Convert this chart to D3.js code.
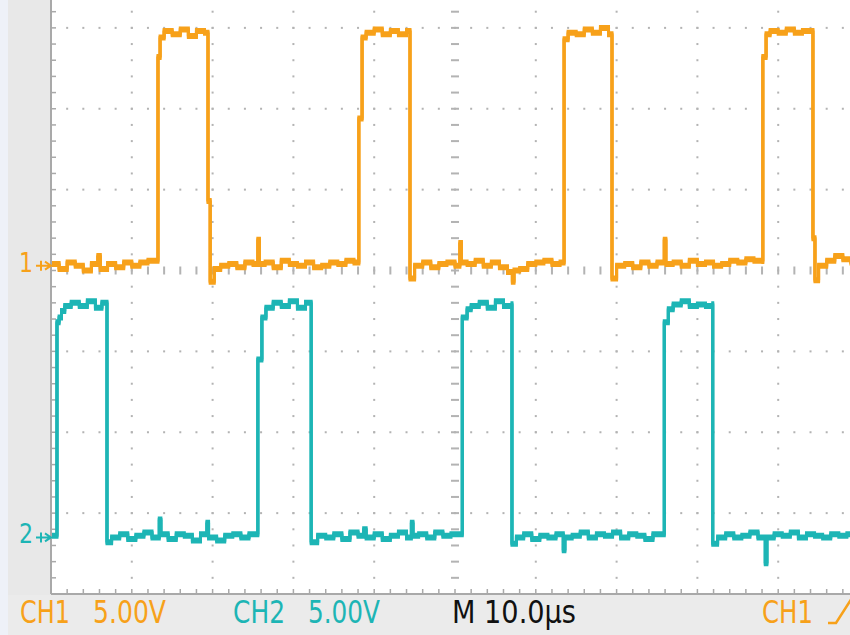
<!DOCTYPE html>
<html>
<head>
<meta charset="utf-8">
<script src="https://cdn.jsdelivr.net/npm/d3@7/dist/d3.min.js"></script>
<style>
  html, body { margin: 0; padding: 0; background: #ffffff; }
  svg { display: block; }
</style>
</head>
<body>
<svg id="chart" width="850" height="635"></svg>
<script>
// ---------------- DATA ----------------
// time axis in microseconds (10 µs / div), voltage in volts (5 V / div)
const timeDivisions = [0, 10, 20, 30, 40, 50, 60, 70, 80, 90, 100];
const voltDivisions = [-20, -15, -10, -5, 0, 5, 10, 15, 20];
const ch1Offset = 0.3;     // CH1 ground marker position (V on screen)
const ch2Offset = -16.5;   // CH2 ground marker position (V on screen)

// CH1 trace: [time µs, volts]
const ch1Trace = [
  [0,0.1],[1,-0.2],[2,0.2],[3,0],[4,-0.3],[5,0.1],[5.8,0.6],[6.1,-0.2],[7,0.1],[8,-0.1],[9,0.2],[10,0],[11,0.2],[12,0.3],[13.24,0.3],
  [13.24,12.9],[13.5,14.1],[14,14.5],[15,14.3],[16,14.6],[17,14.2],[18,14.5],[19,14.4],[19.43,14.4],
  [19.43,4.0],[19.7,4.0],[19.7,-1.0],[20.2,-0.2],[21,0],[22,0.1],[23,-0.1],[24,0.2],[25,0.1],[25.6,1.6],[25.8,0.1],[26.5,0.2],[27.5,-0.1],[28.5,0.3],[29.5,0.1],[30.5,0],[31.5,0.2],[32.5,-0.1],[33.5,0],[34.5,0.2],[35.5,0.1],[36.5,0.3],[37.5,0.2],[38.1,0.1],
  [38.1,9.1],[38.5,9.1],[38.5,14.1],[39,14.4],[40,14.6],[41,14.3],[42,14.5],[43,14.3],[44,14.5],[44.43,14.4],
  [44.43,-0.8],[45,0],[46,0.2],[47,-0.1],[48,0.1],[49,0.2],[50,0],[50.6,1.4],[50.8,0.2],[51.5,0.1],[52.5,0.3],[53.5,0],[54.5,0.2],[55.5,-0.1],[56.5,-0.4],[57.1,-1.0],[57.3,-0.3],[58,-0.2],[59,0.1],[60,0.2],[61,0.3],[62,0.1],[63,0.2],[63.5,0.2],
  [63.5,14.0],[64,14.4],[65,14.3],[66,14.6],[67,14.4],[68,14.7],[69,14.3],[69.43,14.4],
  [69.43,-0.8],[70,0],[71,0.1],[72,-0.1],[73,0.2],[74,0],[75,0.2],[75.9,1.6],[76.1,0.1],[77,0.2],[78,0],[79,0.3],[80,0.1],[81,0.2],[82,0],[83,0.1],[84,0.3],[85,0.2],[86,0.4],[87,0.3],[88.1,0.2],
  [88.1,12.9],[88.5,12.9],[88.5,14.3],[89,14.5],[90,14.4],[91,14.6],[92,14.4],[93,14.5],[94.3,14.4],
  [94.3,1.7],[94.55,1.7],[94.55,-0.9],[95,0],[96,0.3],[97,0.6],[98,0.4],[99,0.2],[100,0.3]
];

// CH2 trace: [time µs, volts]
const ch2Trace = [
  [0,0.1],[0.74,0.1],[0.74,13.3],[1.0,13.6],[1.3,14.0],[1.7,14.3],[2.5,14.5],[3.5,14.3],[4.5,14.6],[5.5,14.2],[6.3,14.5],[6.93,14.4],
  [6.93,-0.3],[7.5,0],[8.5,0.2],[9.5,-0.1],[10.5,0.1],[11.5,0.3],[12.5,0],[13.4,1.1],[13.6,0.2],[14.5,-0.1],[15.5,0.2],[16.5,0.1],[17.5,-0.2],[18.5,0.2],[19.3,0.9],[19.5,0],[20.5,-0.2],[21.5,0.1],[22.5,0.2],[23.5,0],[24.5,0.2],[25.6,0.3],
  [25.6,11.0],[26.1,13.6],[26.6,14.2],[27.5,14.5],[28.5,14.3],[29.5,14.6],[30.5,14.2],[31.5,14.5],[32.2,14.4],
  [32.2,-0.3],[33,0.1],[34,0],[35,0.2],[36,-0.1],[37,0.3],[38,0.1],[38.7,0.5],[39,0],[40,0.2],[41,-0.1],[42,0.1],[43,0.3],[44,0],[44.6,0.9],[44.8,0.1],[45.5,0.2],[46.5,0],[47.5,0.3],[48.5,0.1],[49.5,0.2],[50.9,0.2],
  [50.9,13.6],[51.5,14.1],[52,14.3],[53,14.5],[54,14.2],[55,14.6],[56,14.3],[57.05,14.5],
  [57.05,-0.4],[57.6,0],[58.5,0.2],[59.5,-0.1],[60.5,0.1],[61.5,0],[62.5,0.2],[63.4,-0.8],[63.6,0],[64.5,0.1],[65.5,0.3],[66.5,0],[67.5,0.2],[68.5,0.1],[69.5,0.3],[70.5,0],[71.5,0.2],[72.5,0.1],[73.5,-0.1],[74.5,0.2],[75.9,0.1],
  [75.9,13.3],[76.4,14.1],[77,14.4],[78,14.6],[79,14.3],[80,14.4],[81,14.3],[81.9,14.5],
  [81.9,-0.4],[82.5,0],[83.5,0.2],[84.5,0],[85.5,0.1],[86.5,0.3],[87.5,0],[88.4,-1.6],[88.6,0],[89.5,0.2],[90.5,0.1],[91.5,0.3],[92.5,0],[93.5,0.2],[94.5,0.1],[95.5,0],[96.5,0.2],[97.5,0.1],[98.5,0.2],[100,0]
];

const statusLabels = [
  { text: "CH1",       x: 20,  w: 50,  color: "ch1" },
  { text: "5.00V",     x: 93,  w: 73,  color: "ch1" },
  { text: "CH2",       x: 233, w: 52,  color: "ch2" },
  { text: "5.00V",     x: 308, w: 72,  color: "ch2" },
  { text: "M 10.0\u00B5s", x: 452, w: 124, color: "txt" },
  { text: "CH1",       x: 762, w: 51,  color: "ch1" }
];

// ---------------- STYLE ----------------
const COL = { ch1: "#f7a11a", ch2: "#1db5b5", txt: "#111111", grid: "#b3b3b3", axis: "#a9a9a9" };
const FONT = "'Liberation Sans Narrow', 'DejaVu Sans Condensed', 'Arial Narrow', sans-serif";

const W = 850, H = 635;
const svg = d3.select("#chart");

const xs = d3.scaleLinear().domain([0, 100]).range([51, 859]);
const ys = d3.scaleLinear().domain([-20, 20]).range([594, -53]);

// backgrounds
svg.append("rect").attr("x", 0).attr("y", 0).attr("width", W).attr("height", H).attr("fill", "#ffffff");
svg.append("rect").attr("x", 8).attr("y", 0).attr("width", xs(0) - 8).attr("height", H).attr("fill", "#e8e8e8");
svg.append("rect").attr("x", 8).attr("y", ys(-20) + 1).attr("width", W - 8).attr("height", H - ys(-20) - 1).attr("fill", "#ebebeb");
svg.append("rect").attr("x", 0).attr("y", 0).attr("width", 8).attr("height", H).attr("fill", "#eef1f8");

// ---------------- GRATICULE ----------------
const g = svg.append("g");
const minorT = d3.range(0, 100.001, 2);
const minorV = d3.range(-20, 20.001, 1);

timeDivisions.filter(t => t > 0 && t < 100 && t !== 50).forEach(t => {
  g.selectAll(null).data(minorV).enter().append("rect")
    .attr("x", xs(t) - 1).attr("y", v => ys(v) - 1)
    .attr("width", 2).attr("height", 2).attr("fill", COL.grid);
});
voltDivisions.filter(v => v > -20 && v < 20 && v !== 0).forEach(v => {
  g.selectAll(null).data(minorT).enter().append("rect")
    .attr("x", t => xs(t) - 1).attr("y", ys(v) - 1)
    .attr("width", 2).attr("height", 2).attr("fill", COL.grid);
});
g.selectAll(null).data(minorT).enter().append("rect")
  .attr("x", t => xs(t) - 1).attr("y", ys(0) - 4)
  .attr("width", 2).attr("height", 8).attr("fill", COL.grid);
g.selectAll(null).data(minorV).enter().append("rect")
  .attr("x", xs(50) - 4).attr("y", v => ys(v) - 1)
  .attr("width", 8).attr("height", 2).attr("fill", COL.grid);

g.append("line").attr("x1", xs(0)).attr("x2", xs(0)).attr("y1", 0).attr("y2", ys(-20))
  .attr("stroke", COL.axis).attr("stroke-width", 2);
g.append("line").attr("x1", xs(0)).attr("x2", W).attr("y1", ys(-20)).attr("y2", ys(-20))
  .attr("stroke", COL.axis).attr("stroke-width", 2);
g.selectAll(null).data(minorV).enter().append("line")
  .attr("x1", xs(0)).attr("x2", xs(0) + 5).attr("y1", v => ys(v)).attr("y2", v => ys(v))
  .attr("stroke", COL.axis).attr("stroke-width", 1.5);
g.selectAll(null).data(minorT).enter().append("line")
  .attr("x1", t => xs(t)).attr("x2", t => xs(t)).attr("y1", ys(-20) - 5).attr("y2", ys(-20))
  .attr("stroke", COL.axis).attr("stroke-width", 1.5);

// ---------------- TRACES ----------------
svg.append("clipPath").attr("id", "plotclip").append("rect")
  .attr("x", xs(0) + 1).attr("y", 0).attr("width", W - xs(0) - 1).attr("height", ys(-20) - 1);

function drawTrace(data, offset, color) {
  const line = d3.line()
    .x(d => xs(d[0]))
    .y(d => ys(d[1] + offset))
    .curve(d3.curveStepAfter);
  const tg = svg.append("g").attr("clip-path", "url(#plotclip)");
  [-1.5, 0, 1.5].forEach(dy => {
    tg.append("path").datum(data)
      .attr("d", line)
      .attr("transform", `translate(0,${dy})`)
      .attr("fill", "none")
      .attr("stroke", color)
      .attr("stroke-width", 3)
      .attr("stroke-linejoin", "miter");
  });
}
drawTrace(ch1Trace, ch1Offset, COL.ch1);
drawTrace(ch2Trace, ch2Offset, COL.ch2);

// ---------------- CHANNEL GROUND MARKERS ----------------
function marker(label, offset, color) {
  const y = ys(offset);
  svg.append("text").attr("x", 19).attr("y", y + 6)
    .attr("font-family", FONT).attr("font-size", 27).attr("fill", color)
    .attr("textLength", 14).attr("lengthAdjust", "spacingAndGlyphs").text(label);
  svg.append("path")
    .attr("d", `M36,${y} L${xs(0)},${y} M41,${y - 5} L41,${y + 5} M45,${y - 4} L${xs(0)},${y} L45,${y + 4}`)
    .attr("stroke", color).attr("stroke-width", 2).attr("fill", "none");
}
marker("1", ch1Offset, COL.ch1);
marker("2", ch2Offset, COL.ch2);

// ---------------- STATUS BAR ----------------
svg.selectAll("text.status").data(statusLabels).enter().append("text")
  .attr("class", "status")
  .attr("x", d => d.x).attr("y", 623)
  .attr("font-family", FONT).attr("font-size", 31.5)
  .attr("fill", d => COL[d.color])
  .attr("textLength", d => d.w).attr("lengthAdjust", "spacingAndGlyphs")
  .text(d => d.text);
svg.append("path").attr("d", "M828,623 L836,623 L852,598")
  .attr("stroke", COL.ch1).attr("stroke-width", 2.5).attr("fill", "none");
</script>
</body>
</html>
